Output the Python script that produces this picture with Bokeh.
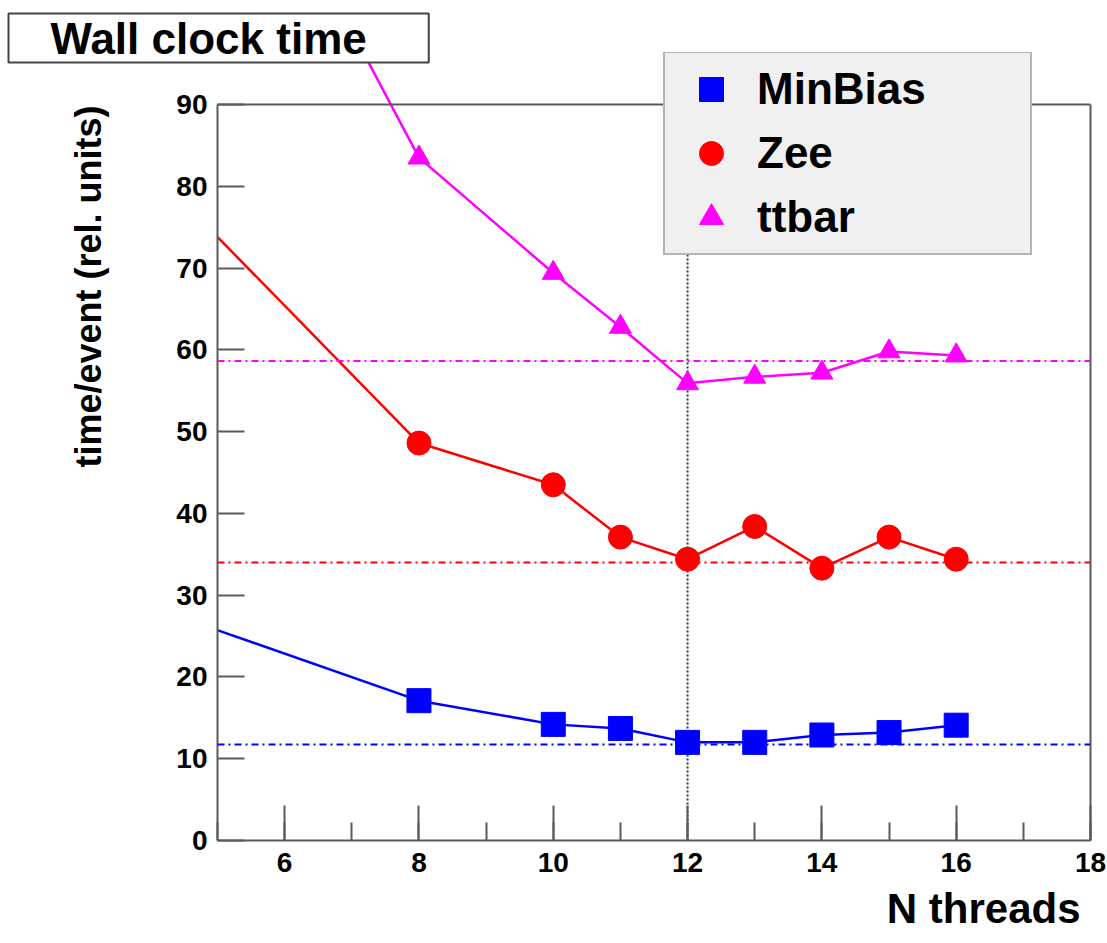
from bokeh.plotting import figure
from bokeh.models import (Span, Legend, LegendItem, SingleIntervalTicker, Title,
                          Range1d, LinearAxis, FixedTicker)
from bokeh.embed import file_html
from bokeh.resources import INLINE

# ---- data ----
threads = [4, 8, 10, 11, 12, 13, 14, 15, 16]
minbias = [28.6, 17.1, 14.2, 13.7, 12.0, 12.0, 12.9, 13.2, 14.1]
zee = [82.2, 48.6, 43.5, 37.1, 34.4, 38.4, 33.3, 37.1, 34.4]
ttbar = [145.5, 83.5, 69.4, 62.8, 55.9, 56.7, 57.2, 59.8, 59.3]
series_names = ["MinBias", "Zee", "ttbar"]
ref_levels = [11.75, 34.0, 58.65]   # dash-dotted horizontal reference lines
ref_threads = 12                     # dotted vertical line
x_min, x_max = 5, 18
y_min, y_max = 0, 90
x_ticks_major = 2
y_ticks_major = 10

FONT = "Liberation Sans"
AX = "#5a5a5a"

# the frame reaches a little above y_max so that the legend box is not clipped
y_frame_top = 96.36

title = Title(text="Wall clock time", align="left", text_font=FONT,
              text_font_size="44px", text_font_style="bold", text_color="black",
              border_line_color="#444444", border_line_width=2,
              background_fill_color="white", padding=(42, 62, 0, 0),
              offset=-209, standoff=-20)

p = figure(width=1107, height=943, output_backend="svg", toolbar_location=None,
           x_range=Range1d(x_min, x_max), y_range=Range1d(y_min, y_frame_top),
           title=title,
           min_border_left=217, min_border_right=17, min_border_top=52,
           min_border_bottom=103, background_fill_color="white",
           border_fill_color="white")

p.outline_line_color = None
p.xgrid.visible = False
p.ygrid.visible = False

# x axis
p.xaxis.ticker = SingleIntervalTicker(interval=x_ticks_major, num_minor_ticks=2)
p.xaxis.major_tick_in = 35
p.xaxis.major_tick_out = 0
p.xaxis.minor_tick_in = 18
p.xaxis.minor_tick_out = 0
p.xaxis.major_label_standoff = 12
# y axis
p.yaxis.ticker = SingleIntervalTicker(interval=y_ticks_major, num_minor_ticks=0)
p.yaxis.bounds = (y_min, y_max)
p.yaxis.major_tick_in = 27
p.yaxis.major_tick_out = 0
p.yaxis.major_label_standoff = 10

for ax in (p.xaxis, p.yaxis):
    ax.axis_line_color = AX
    ax.axis_line_width = 2
    ax.major_tick_line_color = AX
    ax.major_tick_line_width = 2
    ax.minor_tick_line_width = 2
    ax.major_label_text_font = FONT
    ax.major_label_text_font_size = "28px"
    ax.major_label_text_font_style = "bold"
    ax.major_label_text_color = "black"
p.xaxis.minor_tick_line_color = AX
p.yaxis.minor_tick_line_color = None

xlab = Title(text="N threads", align="right", vertical_align="bottom",
             text_font=FONT, text_font_size="42px", text_font_style="bold",
             text_color="black", offset=10, standoff=0, padding=(0, 0, 8, 0))
p.add_layout(xlab, "below")

ylab = Title(text="time/event (rel. units)", align="right", text_font=FONT,
             text_font_size="36px", text_font_style="bold", text_color="black",
             offset=53, standoff=129)
p.add_layout(ylab, "left")

# right frame side (no ticks) and top frame side
right = LinearAxis(ticker=FixedTicker(ticks=[]), bounds=(y_min, y_max),
                   axis_line_color=AX, axis_line_width=2,
                   major_label_text_font_size="0px", major_tick_line_color=None,
                   minor_tick_line_color=None)
p.add_layout(right, "right")
p.add_layout(Span(location=y_max, dimension="width", line_color=AX, line_width=2))

# reference lines
colors = ["blue", "red", "magenta"]
for lvl, c in zip(ref_levels, colors):
    p.add_layout(Span(location=lvl, dimension="width", line_color=c,
                      line_width=2, line_dash="7 4 2 4"))
p.segment(x0=[ref_threads], y0=[y_min], x1=[ref_threads], y1=[y_max],
          line_color="#333333", line_width=2, line_dash="2 2")

# series
p.line(threads, minbias, line_color="blue", line_width=2.5)
p.line(threads, zee, line_color="red", line_width=2.5)
p.line(threads, ttbar, line_color="magenta", line_width=2.5)
r1 = p.scatter(threads, minbias, marker="square", size=24, color="blue")
r2 = p.scatter(threads, zee, marker="circle", size=24, color="red")
r3 = p.scatter(threads, ttbar, marker="triangle", size=22, color="magenta")

legend = Legend(items=[LegendItem(label=series_names[0], renderers=[r1]),
                       LegendItem(label=series_names[1], renderers=[r2]),
                       LegendItem(label=series_names[2], renderers=[r3])],
                location=(446, 585), glyph_width=80, glyph_height=60,
                label_height=60, label_width=267, label_standoff=6,
                spacing=4, padding=6, margin=0,
                label_text_font=FONT, label_text_font_size="44px",
                label_text_font_style="bold", label_text_color="black",
                background_fill_color="#f0f0f0", background_fill_alpha=1,
                border_line_color="#777777", border_line_width=2)
p.add_layout(legend, "center")

open("out.html", "w").write(file_html(p, INLINE))
